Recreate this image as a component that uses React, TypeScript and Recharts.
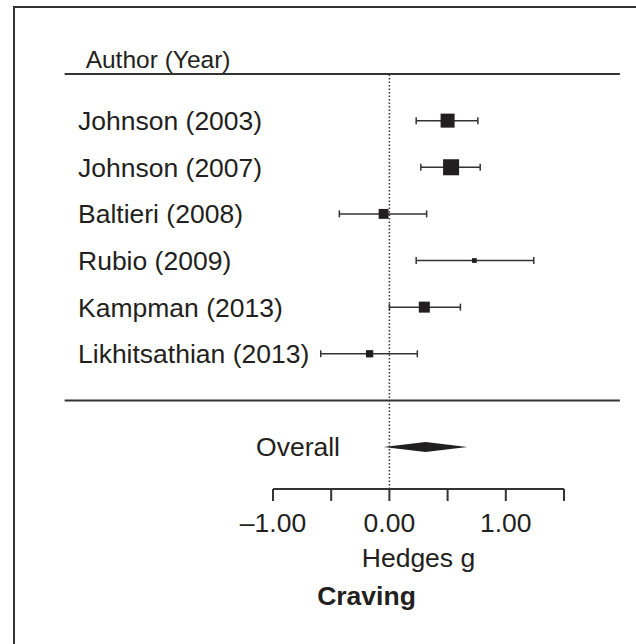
import { ScatterChart, Scatter, XAxis, YAxis, ErrorBar, ReferenceLine, ReferenceArea, Label } from 'recharts';

// study rows, top to bottom
const studies = ['Johnson (2003)', 'Johnson (2007)', 'Baltieri (2008)', 'Rubio (2009)', 'Kampman (2013)', 'Likhitsathian (2013)'];
const effect = [0.5, 0.53, -0.05, 0.73, 0.3, -0.17];
const lower = [0.23, 0.27, -0.43, 0.23, 0.0, -0.59];
const upper = [0.76, 0.78, 0.32, 1.24, 0.61, 0.24];
const weight = [26, 34, 13, 3, 16, 7];

const overallLabel = 'Overall';
const overallEffect = 0.31;
const overallLower = -0.05;
const overallUpper = 0.67;

const xTicks = [-1, -0.5, 0, 0.5, 1, 1.5];
const xLabels: Record<string, string> = { '-1': '–1.00', '0': '0.00', '1': '1.00' };

const FONT = '"Liberation Sans", Arial, Helvetica, sans-serif';
const INK = '#231f20';
const LINE = '#333';

const overallRow = studies.length + 1;
const data = studies.map((name, i) => ({
  name,
  row: i,
  g: effect[i],
  err: [effect[i] - lower[i], upper[i] - effect[i]],
  w: weight[i],
}));
const rowLabels: Record<number, string> = { [overallRow]: overallLabel };
studies.forEach((s, i) => (rowLabels[i] = s));

const WeightedSquare = (props: any) => {
  const { cx, cy, payload } = props;
  const side = Math.sqrt(payload.w) * 2.75;
  return <rect x={cx - side / 2} y={cy - side / 2} width={side} height={side} fill={INK} />;
};

const Diamond = (props: any) => {
  const { x, y, width, height } = props;
  const cy = y + height / 2;
  const px = x + (width * (overallEffect - overallLower)) / (overallUpper - overallLower);
  return <polygon points={`${x},${cy} ${px},${cy - 5} ${x + width},${cy} ${px},${cy + 5}`} fill={INK} />;
};

const RowTick = (props: any) => {
  const { y, payload } = props;
  const label = rowLabels[payload.value];
  if (!label) return null;
  const isOverall = payload.value === overallRow;
  return (
    <text
      x={isOverall ? 340 : 78}
      y={y}
      dy="0.355em"
      textAnchor={isOverall ? 'end' : 'start'}
      fill={INK}
      fontSize={26.5}
      fontFamily={FONT}
    >
      {label}
    </text>
  );
};

export default function App() {
  return (
    <div style={{ position: 'absolute', left: 0, top: 0, width: 636, height: 644, background: '#fff', fontFamily: FONT }}>
      <div
        style={{
          position: 'absolute',
          left: 13,
          top: 6,
          width: 630,
          height: 640,
          borderTop: `2px solid ${LINE}`,
          borderLeft: `2px solid ${LINE}`,
        }}
      />
      <ScatterChart width={636} height={644} margin={{ top: 74, right: 72, bottom: 77, left: 0 }} style={{ position: 'absolute', left: 0, top: 0 }}>
        <XAxis
          type="number"
          dataKey="g"
          domain={[-1, 1.5]}
          ticks={xTicks}
          allowDataOverflow
          tickFormatter={(v) => xLabels[String(v)] ?? ''}
          tickSize={12}
          tickMargin={12}
          height={78}
          stroke={LINE}
          strokeWidth={2}
          tick={{ fontSize: 26.5, fill: INK, fontFamily: FONT }}
        >
          <Label value="Hedges g" position="insideBottom" offset={0} fontSize={26.5} fill={INK} fontFamily={FONT} />
          <Label value="Craving" position="insideBottom" offset={-38} dx={-52} fontSize={26.5} fontWeight="bold" fill={INK} fontFamily={FONT} />
        </XAxis>
        <YAxis
          type="number"
          dataKey="row"
          domain={[-1, 7.9]}
          reversed
          ticks={[...studies.map((_, i) => i), overallRow]}
          width={273}
          axisLine={false}
          tickLine={false}
          tick={<RowTick />}
        />
        <ReferenceLine x={0} stroke={LINE} strokeWidth={1.5} strokeDasharray="1.5 2" />
        <ReferenceLine
          segment={[{ x: -2.79, y: -1 }, { x: 1.98, y: -1 }]}
          ifOverflow="visible"
          stroke={LINE}
          strokeWidth={2}
        >
          <Label value="Author (Year)" position="insideBottomLeft" offset={6} dx={15} fontSize={24.5} fill={INK} fontFamily={FONT} />
        </ReferenceLine>
        <ReferenceLine
          segment={[{ x: -2.79, y: studies.length }, { x: 1.98, y: studies.length }]}
          ifOverflow="visible"
          stroke={LINE}
          strokeWidth={2}
        />
        <ReferenceArea
          x1={overallLower}
          x2={overallUpper}
          y1={overallRow - 0.1}
          y2={overallRow + 0.1}
          ifOverflow="visible"
          shape={<Diamond />}
        />
        <Scatter data={data} shape={<WeightedSquare />} isAnimationActive={false}>
          <ErrorBar dataKey="err" direction="x" width={3.5} stroke={LINE} strokeWidth={1.5} />
        </Scatter>
      </ScatterChart>
    </div>
  );
}
